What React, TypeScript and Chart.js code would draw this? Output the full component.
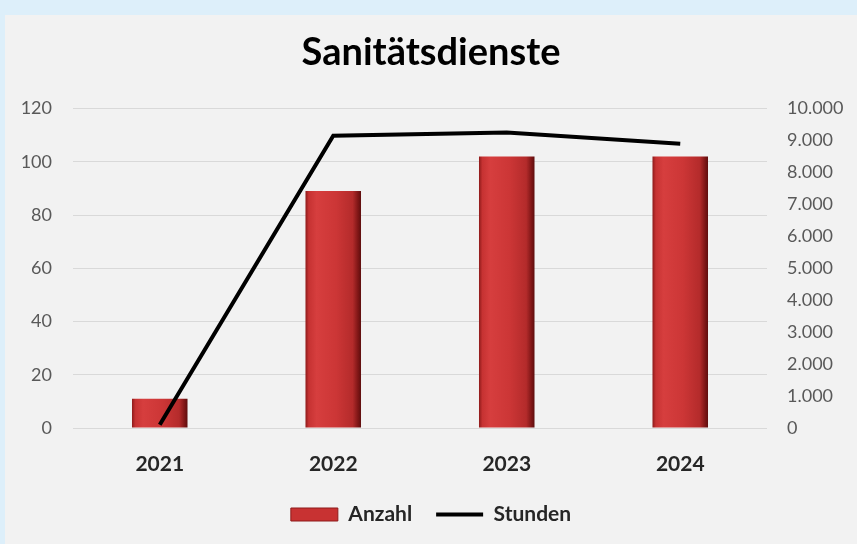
import React, { useEffect, useRef } from "react";
import { Chart, registerables } from "chart.js";

Chart.register(...registerables);

const TITLE = "Sanitätsdienste";
const CATEGORIES = ["2021", "2022", "2023", "2024"];
const ANZAHL = [11, 89, 102, 102];
const STUNDEN = [100, 9150, 9250, 8900];
const LEFT_TICKS = [0, 20, 40, 60, 80, 100, 120];
const RIGHT_TICKS = [0, 1000, 2000, 3000, 4000, 5000, 6000, 7000, 8000, 9000, 10000];
const SERIES_NAMES = ["Anzahl", "Stunden"];

const FONT = "Lato, 'Open Sans', sans-serif";
const BAR_PCT = 0.32;

function fmtDe(v: number): string {
  return String(v).replace(/\B(?=(\d{3})+(?!\d))/g, ".");
}

function barFill(ctx: any) {
  const chart = ctx.chart;
  const xs = chart.scales && chart.scales.x;
  if (!chart.chartArea || !xs || ctx.type !== "data") return "#c83232";
  const cx = xs.getPixelForValue(ctx.dataIndex);
  const w = (chart.chartArea.width / CATEGORIES.length) * BAR_PCT;
  const g = chart.ctx.createLinearGradient(cx - w / 2, 0, cx + w / 2, 0);
  g.addColorStop(0, "#8e1a1a");
  g.addColorStop(0.06, "#c63232");
  g.addColorStop(0.2, "#d63e3e");
  g.addColorStop(0.55, "#cc3636");
  g.addColorStop(0.85, "#b42b2b");
  g.addColorStop(0.95, "#7c1515");
  g.addColorStop(1, "#5e0e0e");
  return g;
}

export default function App() {
  const ref = useRef<HTMLCanvasElement | null>(null);

  useEffect(() => {
    if (!ref.current) return;
    const chart = new Chart(ref.current, {
      data: {
        labels: CATEGORIES,
        datasets: [
          {
            type: "line" as const,
            label: SERIES_NAMES[1],
            data: STUNDEN,
            yAxisID: "y1",
            borderColor: "#000000",
            backgroundColor: "#000000",
            borderWidth: 4,
            pointRadius: 0,
            pointHoverRadius: 0,
            pointStyle: "line",
            tension: 0,
            order: 0,
          },
          {
            type: "bar" as const,
            label: SERIES_NAMES[0],
            data: ANZAHL,
            yAxisID: "y",
            backgroundColor: barFill,
            borderWidth: 0,
            barPercentage: BAR_PCT,
            categoryPercentage: 1,
            pointStyle: "rect",
            order: 1,
          },
        ],
      },
      options: {
        animation: false,
        responsive: false,
        maintainAspectRatio: false,
        layout: { padding: { left: 0, right: 0, top: 0, bottom: 9 } },
        plugins: {
          title: {
            display: true,
            text: TITLE,
            color: "#000000",
            font: { family: FONT, size: 38, weight: "bold" },
            padding: { top: 15, bottom: 33 },
          },
          legend: {
            display: true,
            position: "bottom",
            labels: {
              usePointStyle: true,
              pointStyleWidth: 47,
              boxHeight: 13,
              color: "#262626",
              font: { family: FONT, size: 21, weight: "bold" },
              padding: 24,
              generateLabels: (c: any) => {
                const order = [1, 0];
                return order.map((i) => {
                  const ds = c.data.datasets[i];
                  const isBar = ds.type === "bar";
                  return {
                    text: ds.label,
                    datasetIndex: i,
                    fillStyle: isBar ? "#c83232" : "#000000",
                    strokeStyle: isBar ? "#8e1a1a" : "#000000",
                    lineWidth: isBar ? 1 : 4,
                    pointStyle: isBar ? "rect" : "line",
                    hidden: false,
                    fontColor: "#262626",
                  };
                });
              },
            },
          },
          tooltip: { enabled: false },
        },
        scales: {
          x: {
            grid: { display: false },
            border: { display: false },
            ticks: {
              color: "#262626",
              font: { family: FONT, size: 21, weight: "bold" },
              padding: 16,
            },
            afterFit: (s: any) => {
              s.height = 52;
            },
          },
          y: {
            position: "left",
            min: LEFT_TICKS[0],
            max: LEFT_TICKS[LEFT_TICKS.length - 1],
            afterBuildTicks: (s: any) => {
              s.ticks = LEFT_TICKS.map((v) => ({ value: v }));
            },
            grid: { color: "#d9d9d9", lineWidth: 1, drawTicks: false },
            border: { display: false },
            ticks: {
              color: "#595959",
              font: { family: FONT, size: 18 },
              padding: 21,
            },
            afterFit: (s: any) => {
              s.width = 68;
            },
          },
          y1: {
            position: "right",
            min: RIGHT_TICKS[0],
            max: RIGHT_TICKS[RIGHT_TICKS.length - 1],
            afterBuildTicks: (s: any) => {
              s.ticks = RIGHT_TICKS.map((v) => ({ value: v }));
            },
            grid: { display: false, drawTicks: false },
            border: { display: false },
            ticks: {
              color: "#595959",
              font: { family: FONT, size: 18 },
              padding: 20,
              callback: (v: any) => fmtDe(Number(v)),
            },
            afterFit: (s: any) => {
              s.width = 90;
            },
          },
        },
      },
    } as any);
    return () => chart.destroy();
  }, []);

  return (
    <div
      style={{
        position: "fixed",
        left: 0,
        top: 0,
        width: 857,
        height: 544,
        background: "#ddeffa",
      }}
    >
      <div
        style={{
          position: "absolute",
          left: 5,
          top: 15,
          width: 852,
          height: 529,
          background: "#f2f2f2",
        }}
      >
        <canvas ref={ref} width={852} height={529} style={{ display: "block", width: 852, height: 529 }} />
      </div>
    </div>
  );
}
